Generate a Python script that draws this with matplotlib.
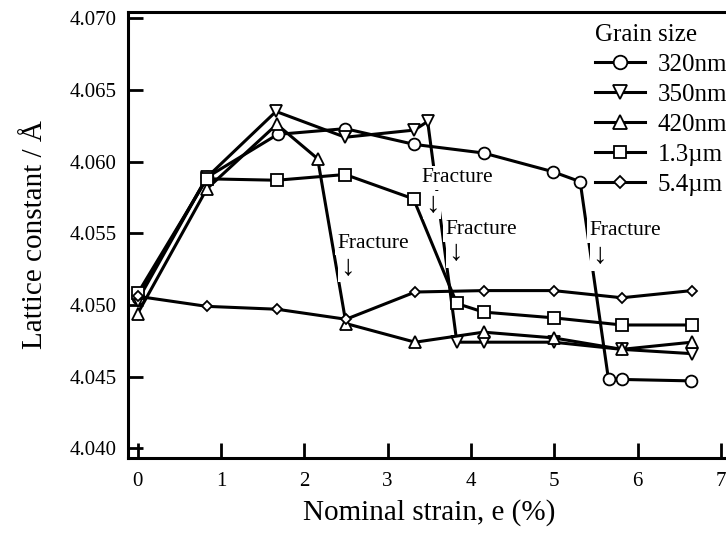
import matplotlib
matplotlib.use("Agg")
import matplotlib.pyplot as plt

plt.rcParams['font.family'] = ['Liberation Serif', 'DejaVu Serif']

# ---- data ----
x_320 = [0, 0.83, 1.68, 2.49, 3.32, 4.15, 4.98, 5.31, 5.65, 5.81, 6.64]
y_320 = [4.0505, 4.0589, 4.0619, 4.0623, 4.0612, 4.0606, 4.0593, 4.0586, 4.0448, 4.0448, 4.0447]

x_350 = [0, 0.83, 1.66, 2.49, 3.32, 3.48, 3.83, 4.15, 4.99, 5.81, 6.65]
y_350 = [4.0503, 4.0589, 4.0635, 4.0617, 4.0622, 4.0628, 4.0474, 4.0474, 4.0474, 4.0469, 4.0466]

x_420 = [0, 0.83, 1.67, 2.16, 2.50, 3.33, 4.15, 4.99, 5.81, 6.65]
y_420 = [4.0494, 4.0581, 4.0626, 4.0602, 4.0487, 4.0474, 4.0481, 4.0477, 4.0469, 4.0474]

x_13 = [0, 0.83, 1.67, 2.49, 3.31, 3.83, 4.15, 4.99, 5.81, 6.65]
y_13 = [4.0508, 4.0588, 4.0587, 4.0591, 4.0574, 4.0501, 4.0495, 4.0491, 4.0486, 4.0486]

x_54 = [0, 0.83, 1.67, 2.50, 3.33, 4.15, 4.99, 5.81, 6.65]
y_54 = [4.0506, 4.0499, 4.0497, 4.0490, 4.0509, 4.0510, 4.0510, 4.0505, 4.0510]

labels = ["320nm", "350nm", "420nm", "1.3\u00b5m", "5.4\u00b5m"]
markers = ["o", "v", "^", "s", "D"]
msizes = [8.5, 8.5, 8.5, 8.0, 5.6]

# fracture labels: text anchor (left, center) and arrow positions
frac_text_x = [3.408, 2.392, 3.688, 5.416]
frac_text_y = [4.05886, 4.05432, 4.05523, 4.05516]
frac_arrow_x = [3.532, 2.515, 3.808, 5.536]
frac_arrow_y = [4.05697, 4.05258, 4.05360, 4.05341]

xticks = [0, 1, 2, 3, 4, 5, 6, 7]
yticks = [4.040, 4.045, 4.050, 4.055, 4.060, 4.065, 4.070]

W, H = 726, 533
fig = plt.figure(figsize=(W / 100, H / 100), dpi=100)
ax_l, ax_r, ax_t, ax_b = 128, 730, 11.7, 457.7
ax = fig.add_axes([ax_l / W, 1 - ax_b / H, (ax_r - ax_l) / W, (ax_b - ax_t) / H])
ax.set_xlim(-0.116, 7.108)
ax.set_ylim(4.03934, 4.07046)

series = [(x_320, y_320), (x_350, y_350), (x_420, y_420), (x_13, y_13), (x_54, y_54)]
handles = []
for i, ((xs, ys), lab, mk, ms) in enumerate(zip(series, labels, markers, msizes)):
    h, = ax.plot(xs, ys, color='black', lw=2.2, marker=mk, ms=ms,
                 mfc='white', mec='black', mew=1.3, label=lab, zorder=2 + i * 0.1)
    handles.append(h)

for tx, ty, axx, ayy in zip(frac_text_x, frac_text_y, frac_arrow_x, frac_arrow_y):
    ax.text(tx, ty, "Fracture", ha='left', va='center', fontsize=15.5, zorder=5,
            bbox=dict(facecolor='white', edgecolor='none', pad=1.5))
    ax.text(axx, ayy, "\u2193", ha='center', va='center', fontsize=21, zorder=5,
            bbox=dict(facecolor='white', edgecolor='none', pad=1.0))

ax.set_xticks(xticks)
ax.set_yticks(yticks)
ax.set_xticklabels([str(v) for v in xticks])
ax.set_yticklabels([f"{v:.3f}" for v in yticks])
ax.tick_params(direction='in', length=11, width=2, labelsize=15, pad=8)
ax.tick_params(axis='x', pad=10)
for s in ax.spines.values():
    s.set_linewidth(2.2)

ax.set_xlabel("Nominal strain, e (%)", fontsize=21)
ax.xaxis.set_label_coords(0.5, -0.092)
ax.set_ylabel("Lattice constant / \u00c5", fontsize=21)
ax.yaxis.set_label_coords(-0.133, 0.5)

leg = ax.legend(handles=handles, labels=labels, title="Grain size",
                loc='upper left', bbox_to_anchor=(595 / W, 1 - 24 / H),
                bbox_transform=fig.transFigure, frameon=False, fontsize=18,
                title_fontsize=18, handlelength=2.0, handletextpad=0.5,
                labelspacing=0.3, borderpad=0, borderaxespad=0,
                markerscale=1.15, alignment='left')

fig.savefig("out.png", dpi=100)
